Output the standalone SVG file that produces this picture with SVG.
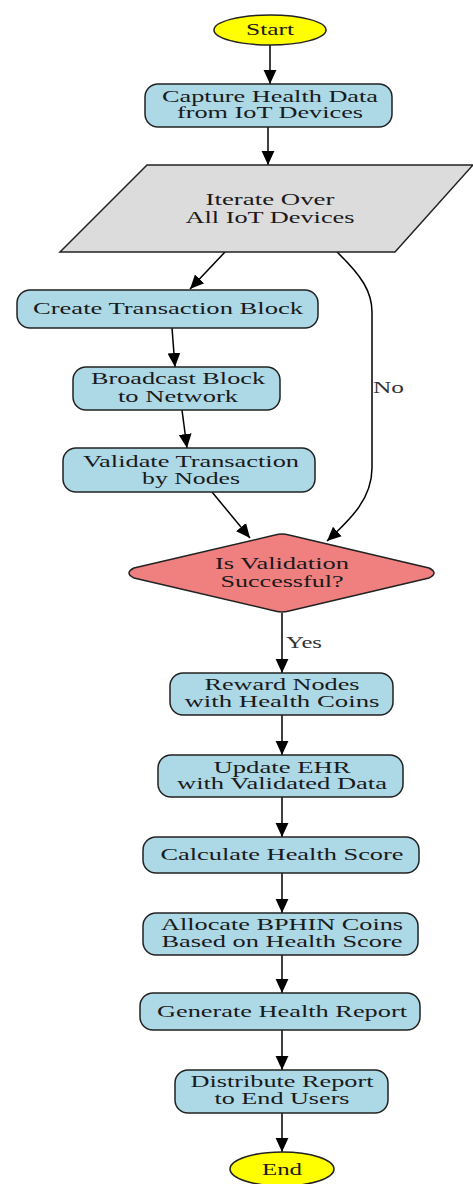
<svg xmlns="http://www.w3.org/2000/svg" width="473" height="1184" viewBox="0 0 473 1184">
<defs>
<marker id="ah" markerUnits="userSpaceOnUse" markerWidth="14" markerHeight="14" viewBox="0 0 12 12" refX="12" refY="6" orient="auto">
<path d="M0,0.5 L12,6 L0,11.5 Z" fill="#000"/>
</marker>
</defs>
<style>
.t{font-family:"Liberation Serif","Times New Roman",serif;font-size:16px;fill:#1a1a1a;text-anchor:middle}
.box{fill:#add8e6;stroke:#222;stroke-width:1.5}
.term{fill:#ffff00;stroke:#222;stroke-width:1.5}
.e{fill:none;stroke:#000;stroke-width:1.5;marker-end:url(#ah)}
.lbl{font-family:"Liberation Serif","Times New Roman",serif;font-size:16px;fill:#333}
</style>
<rect width="473" height="1184" fill="#fff"/>
<g id="connectors">
<path class="e" d="M270,45 L270,84"/>
<path class="e" d="M268,127 L268,165"/>
<path class="e" d="M225,252 L190,289"/>
<path class="e" d="M172,328 L175,367"/>
<path class="e" d="M182,410 L187,448"/>
<path class="e" d="M212,492 L250,538"/>
<path class="e" d="M337,252 C362,276 372,292 372,312 L372,468 C372,498 352,518 327,541"/>
<path class="e" d="M282,613 L282,673"/>
<path class="e" d="M282,715 L282,755"/>
<path class="e" d="M282,797 L282,837"/>
<path class="e" d="M282,873 L282,913"/>
<path class="e" d="M282,955 L282,993"/>
<path class="e" d="M282,1030 L282,1070"/>
<path class="e" d="M282,1113 L282,1152"/>
<text class="lbl" x="373" y="393" textLength="31" lengthAdjust="spacingAndGlyphs">No</text>
<text class="lbl" x="286" y="648" textLength="36" lengthAdjust="spacingAndGlyphs">Yes</text>
</g>
<g id="start">
<ellipse class="term" cx="270" cy="30" rx="56" ry="15"/>
<text class="t" x="270" y="35" textLength="48" lengthAdjust="spacingAndGlyphs">Start</text>
</g>
<g id="capture">
<rect class="box" x="145" y="84" width="247" height="43" rx="13"/>
<text class="t" x="270" y="102" textLength="216" lengthAdjust="spacingAndGlyphs">Capture Health Data</text>
<text class="t" x="270" y="118" textLength="186" lengthAdjust="spacingAndGlyphs">from IoT Devices</text>
</g>
<g id="iterate">
<polygon points="147,165 473,165 395,252 60,252" fill="#dcdcdc" stroke="#222" stroke-width="1.5"/>
<text class="t" x="270" y="205" textLength="129" lengthAdjust="spacingAndGlyphs">Iterate Over</text>
<text class="t" x="270" y="223" textLength="169" lengthAdjust="spacingAndGlyphs">All IoT Devices</text>
</g>
<g id="create">
<rect class="box" x="17" y="290" width="301" height="38" rx="13"/>
<text class="t" x="168" y="314" textLength="270" lengthAdjust="spacingAndGlyphs">Create Transaction Block</text>
</g>
<g id="broadcast">
<rect class="box" x="73" y="367" width="207" height="43" rx="13"/>
<text class="t" x="178" y="384" textLength="174" lengthAdjust="spacingAndGlyphs">Broadcast Block</text>
<text class="t" x="178" y="402" textLength="120" lengthAdjust="spacingAndGlyphs">to Network</text>
</g>
<g id="validate">
<rect class="box" x="63" y="448" width="252" height="44" rx="13"/>
<text class="t" x="191" y="467" textLength="216" lengthAdjust="spacingAndGlyphs">Validate Transaction</text>
<text class="t" x="191" y="484" textLength="98" lengthAdjust="spacingAndGlyphs">by Nodes</text>
</g>
<g id="decision">
<path d="M275,535 Q282,533 289,535 L429,568 Q439,573 429,578 L289,611 Q282,613 275,611 L134,578 Q124,573 134,568 Z" fill="#f08080" stroke="#222" stroke-width="1.5"/>
<text class="t" x="282" y="569" textLength="134" lengthAdjust="spacingAndGlyphs">Is Validation</text>
<text class="t" x="282" y="587" textLength="123" lengthAdjust="spacingAndGlyphs">Successful?</text>
</g>
<g id="reward">
<rect class="box" x="170" y="673" width="223" height="42" rx="13"/>
<text class="t" x="282" y="690" textLength="155" lengthAdjust="spacingAndGlyphs">Reward Nodes</text>
<text class="t" x="282" y="707" textLength="195" lengthAdjust="spacingAndGlyphs">with Health Coins</text>
</g>
<g id="update">
<rect class="box" x="158" y="755" width="245" height="42" rx="13"/>
<text class="t" x="282" y="773" textLength="137" lengthAdjust="spacingAndGlyphs">Update EHR</text>
<text class="t" x="282" y="789" textLength="210" lengthAdjust="spacingAndGlyphs">with Validated Data</text>
</g>
<g id="calculate">
<rect class="box" x="143" y="837" width="276" height="36" rx="13"/>
<text class="t" x="282" y="860" textLength="243" lengthAdjust="spacingAndGlyphs">Calculate Health Score</text>
</g>
<g id="allocate">
<rect class="box" x="143" y="913" width="275" height="42" rx="13"/>
<text class="t" x="282" y="930" textLength="242" lengthAdjust="spacingAndGlyphs">Allocate BPHIN Coins</text>
<text class="t" x="282" y="947" textLength="241" lengthAdjust="spacingAndGlyphs">Based on Health Score</text>
</g>
<g id="generate">
<rect class="box" x="140" y="993" width="280" height="37" rx="13"/>
<text class="t" x="282" y="1017" textLength="250" lengthAdjust="spacingAndGlyphs">Generate Health Report</text>
</g>
<g id="distribute">
<rect class="box" x="175" y="1070" width="213" height="43" rx="13"/>
<text class="t" x="282" y="1087" textLength="183" lengthAdjust="spacingAndGlyphs">Distribute Report</text>
<text class="t" x="282" y="1104" textLength="135" lengthAdjust="spacingAndGlyphs">to End Users</text>
</g>
<g id="end">
<ellipse class="term" cx="282" cy="1169" rx="52" ry="17"/>
<text class="t" x="282" y="1175" textLength="40" lengthAdjust="spacingAndGlyphs">End</text>
</g>
</svg>
